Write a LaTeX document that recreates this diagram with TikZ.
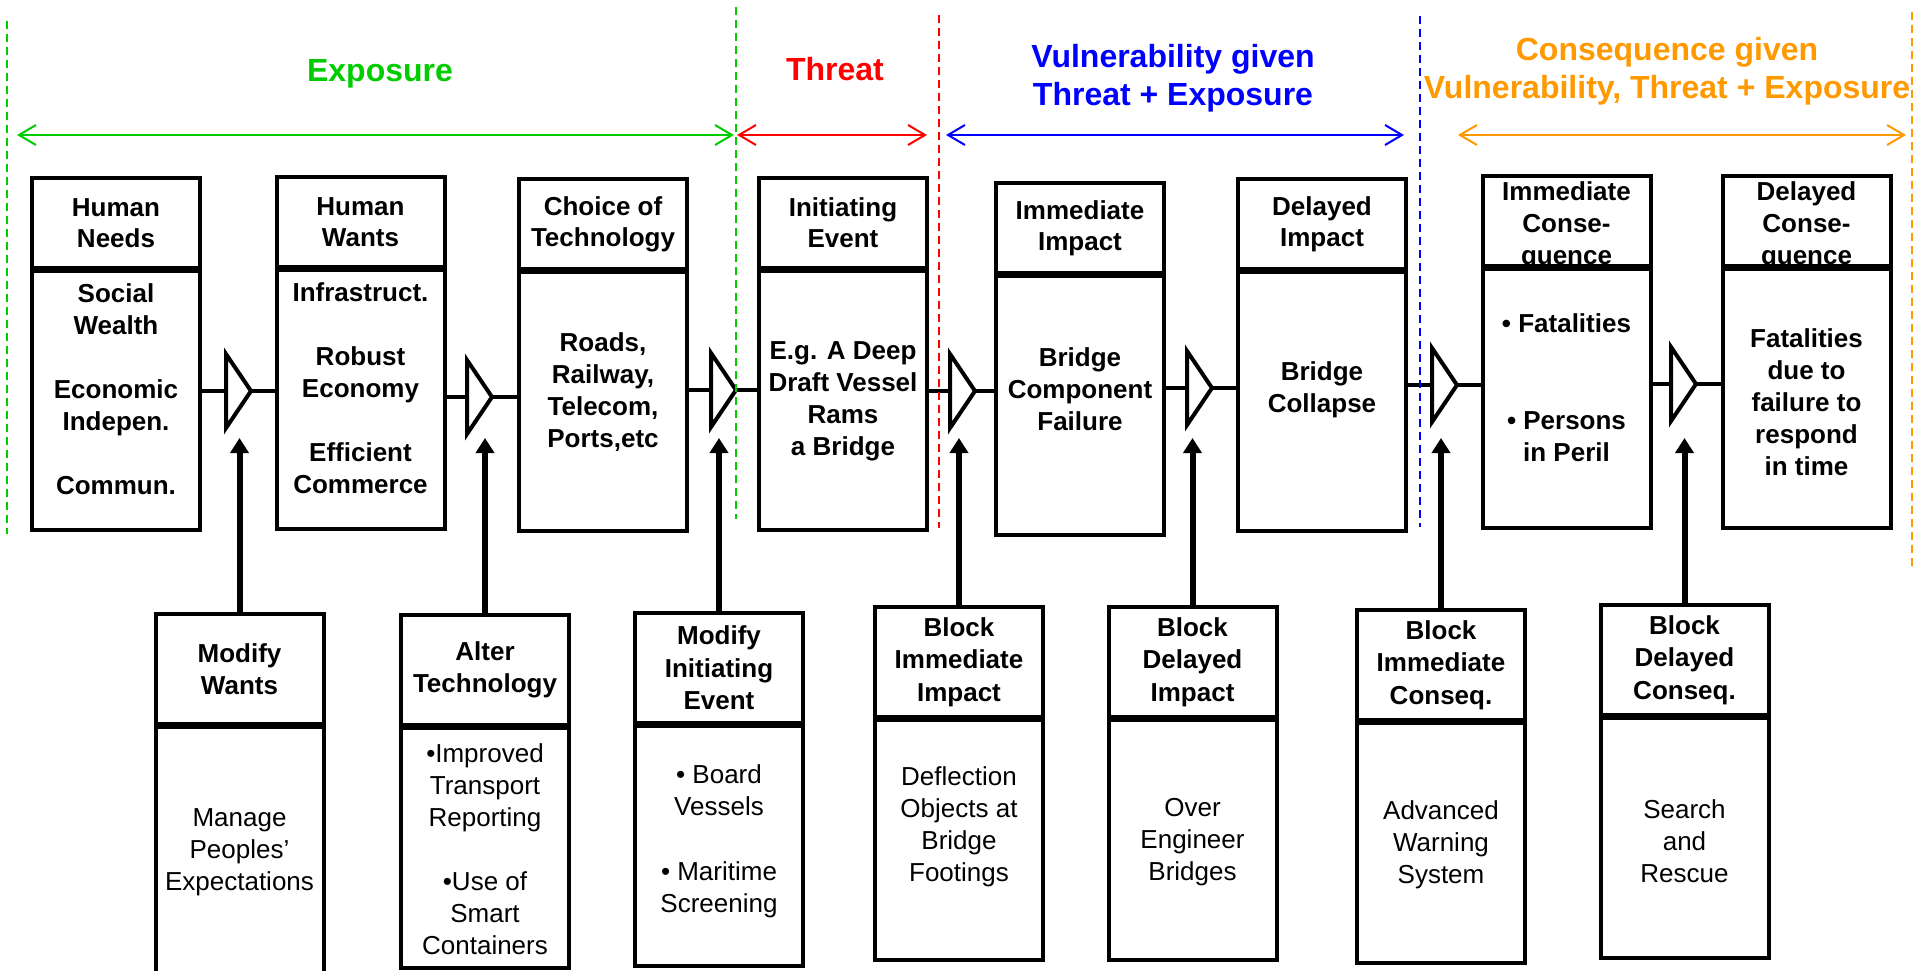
\documentclass[tikz,border=0pt]{standalone}
\usepackage{fontspec}
\setmainfont{Liberation Sans}
\usetikzlibrary{positioning,arrows.meta,shapes.geometric}
\definecolor{expgreen}{RGB}{0,204,0}
\definecolor{conorange}{RGB}{255,153,0}

\begin{document}
\begin{tikzpicture}[x=1pt,y=-1pt,
	boxhead/.style={draw, line width=4pt, minimum width=168pt, minimum height=90pt, inner sep=0pt, outer sep=0pt, align=center, font=\bfseries\fontsize{26}{31}\selectfont},
	boxbody/.style={draw, line width=4pt, minimum width=168pt, minimum height=259pt, inner sep=0pt, outer sep=0pt},
	ctrlhead/.style={boxhead, minimum height=110pt, font=\bfseries\fontsize{26}{32.5}\selectfont},
	ctrlbody/.style={boxbody, minimum height=240pt},
	boldtxt/.style={align=center, font=\bfseries\fontsize{26}{32}\selectfont},
	normtxt/.style={align=center, font=\fontsize{26}{32}\selectfont},
	phase/.style={align=center, font=\bfseries\fontsize{32}{38}\selectfont},
	amp/.style={draw, line width=4pt, isosceles triangle, isosceles triangle stretches, minimum width=74pt, minimum height=25pt, inner sep=0pt, outer sep=0pt, anchor=west},
	link/.style={line width=4pt},
	push/.style={line width=6pt, -{Triangle[length=15pt,width=18pt]}},
	span/.style={line width=2pt, {Straight Barb[length=17pt,width=20pt]}-{Straight Barb[length=17pt,width=20pt]}},
	sectionline/.style={line width=2pt, dash pattern=on 8pt off 5pt}]

	\useasboundingbox (0,0) rectangle (1915,971);

	% phase titles
	\node[phase, text=expgreen] (exposure) at (380,74) {Exposure};
	\node[phase, text=red] (threat) at (835,69) {Threat};
	\node[phase, text=blue] (vuln) at (1173,78) {Vulnerability given\\Threat + Exposure};
	\node[phase, text=conorange] (conseq) at (1667,71) {Consequence given\\Vulnerability, Threat + Exposure};

	\coordinate (ga) at (17,135);
	\coordinate (gb) at (734,135);
	\coordinate (ra) at (737,135);
	\coordinate (rb) at (927,135);
	\coordinate (ua) at (946,135);
	\coordinate (ub) at (1404,135);
	\coordinate (oa) at (1458,135);
	\coordinate (ob) at (1906,135);
	\draw[span, expgreen] (ga) -- (gb);
	\draw[span, red] (ra) -- (rb);
	\draw[span, blue] (ua) -- (ub);
	\draw[span, conorange] (oa) -- (ob);

	% chain of events
	\node[boxhead] (h1) at (116,223) {Human\\Needs};
	\node[boxbody, below=3pt of h1] (b1) {};
	\node[boldtxt] (s1) at (116,389) {Social\\Wealth\\[32pt]Economic\\Indepen.\\[32pt]Commun.};

	\node[boxhead] (h2) at (360.5,222) {Human\\Wants};
	\node[boxbody, below=3pt of h2] (b2) {};
	\node[boldtxt] (s2) at (360.5,388) {Infrastruct.\\[32pt]Robust\\Economy\\[32pt]Efficient\\Commerce};

	\node[boxhead] (h3) at (603,224) {Choice of\\Technology};
	\node[boxbody, below=3pt of h3] (b3) {};
	\node[boldtxt] (s3) at (603,392) {Roads,\\Railway,\\Telecom,\\Ports,etc};

	\node[boxhead] (h4) at (843,223) {Initiating\\Event};
	\node[boxbody, below=3pt of h4] (b4) {};
	\node[boldtxt] (s4) at (843,401) {E.g. A Deep\\Draft Vessel\\Rams\\a Bridge};

	\node[boxhead] (h5) at (1080,228) {Immediate\\Impact};
	\node[boxbody, below=3pt of h5] (b5) {};
	\node[boldtxt] (s5) at (1080,389) {Bridge\\Component\\Failure};

	\node[boxhead] (h6) at (1322,224) {Delayed\\Impact};
	\node[boxbody, below=3pt of h6] (b6) {};
	\node[boldtxt] (s6) at (1322,390) {Bridge\\Collapse};

	\node[boxhead] (h7) at (1566.5,221) {};
	\node[boxbody, below=3pt of h7] (b7) {};
	\node[boldtxt] (h7t) at (1566.5,226) {Immediate\\Conse-\\quence};
	\node[boldtxt] (s7) at (1566.5,388) {• Fatalities\\[65pt]• Persons\\in Peril};

	\node[boxhead] (h8) at (1806.5,221) {};
	\node[boxbody, below=3pt of h8] (b8) {};
	\node[boldtxt] (h8t) at (1806.5,226) {Delayed\\Conse-\\quence};
	\node[boldtxt] (s8) at (1806.5,402) {Fatalities\\due to\\failure to\\respond\\in time};

	% amplifiers
	\node[amp] (t1) at (226,391) {};
	\node[amp] (t2) at (467,397) {};
	\node[amp] (t3) at (711,390) {};
	\node[amp] (t4) at (950,391) {};
	\node[amp] (t5) at (1187,388) {};
	\node[amp] (t6) at (1432,385) {};
	\node[amp] (t7) at (1671,384) {};

	\draw[link] (t1.west -| b1.east) -- (t1.west);
	\draw[link] (t1.apex) -- (t1.apex -| b2.west);
	\draw[link] (t2.west -| b2.east) -- (t2.west);
	\draw[link] (t2.apex) -- (t2.apex -| b3.west);
	\draw[link] (t3.west -| b3.east) -- (t3.west);
	\draw[link] (t3.apex) -- (t3.apex -| b4.west);
	\draw[link] (t4.west -| b4.east) -- (t4.west);
	\draw[link] (t4.apex) -- (t4.apex -| b5.west);
	\draw[link] (t5.west -| b5.east) -- (t5.west);
	\draw[link] (t5.apex) -- (t5.apex -| b6.west);
	\draw[link] (t6.west -| b6.east) -- (t6.west);
	\draw[link] (t6.apex) -- (t6.apex -| b7.west);
	\draw[link] (t7.west -| b7.east) -- (t7.west);
	\draw[link] (t7.apex) -- (t7.apex -| b8.west);

	% controls
	\node[ctrlhead] (m1) at (239.5,669) {Modify\\Wants};
	\node[ctrlbody, below=3pt of m1, minimum height=262pt] (c1) {};
	\node[normtxt] (r1) at (239.5,852) {Manage\\Peoples’\\Expectations};

	\node[ctrlhead] (m2) at (485,670) {Alter\\Technology};
	\node[ctrlbody, below=3pt of m2] (c2) {};
	\node[normtxt] (r2) at (485,849) {•Improved\\Transport\\Reporting\\[32pt]•Use of\\Smart\\Containers};

	\node[ctrlhead] (m3) at (719,668) {Modify\\Initiating\\Event};
	\node[ctrlbody, below=3pt of m3] (c3) {};
	\node[normtxt] (r3) at (719,841.5) {• Board\\Vessels\\[33pt]• Maritime\\Screening};

	\node[ctrlhead] (m4) at (959,662) {Block\\Immediate\\Impact};
	\node[ctrlbody, below=3pt of m4] (c4) {};
	\node[normtxt] (r4) at (959,826.5) {Deflection\\Objects at\\Bridge\\Footings};

	\node[ctrlhead] (m5) at (1192.5,662) {Block\\Delayed\\Impact};
	\node[ctrlbody, below=3pt of m5] (c5) {};
	\node[normtxt] (r5) at (1192.5,842.5) {Over\\Engineer\\Bridges};

	\node[ctrlhead] (m6) at (1441,665) {Block\\Immediate\\Conseq.};
	\node[ctrlbody, below=3pt of m6] (c6) {};
	\node[normtxt] (r6) at (1441,845) {Advanced\\Warning\\System};

	\node[ctrlhead] (m7) at (1684.5,660) {Block\\Delayed\\Conseq.};
	\node[ctrlbody, below=3pt of m7] (c7) {};
	\node[normtxt] (r7) at (1684.5,841) {Search\\and\\Rescue};

	\coordinate (tipline) at (0,438);
	\draw[push] (m1.north) -- (m1.north |- tipline);
	\draw[push] (m2.north) -- (m2.north |- tipline);
	\draw[push] (m3.north) -- (m3.north |- tipline);
	\draw[push] (m4.north) -- (m4.north |- tipline);
	\draw[push] (m5.north) -- (m5.north |- tipline);
	\draw[push] (m6.north) -- (m6.north |- tipline);
	\draw[push] (m7.north) -- (m7.north |- tipline);

	% phase borders
	\draw[sectionline, expgreen] (7,21) -- (7,534);
	\draw[sectionline, expgreen] (736,7) -- (736,519);
	\draw[sectionline, red] (939,15) -- (939,528);
	\draw[sectionline, blue] (1420,16) -- (1420,527);
	\draw[sectionline, conorange] (1912,12) -- (1912,568);

\end{tikzpicture}
\end{document}
